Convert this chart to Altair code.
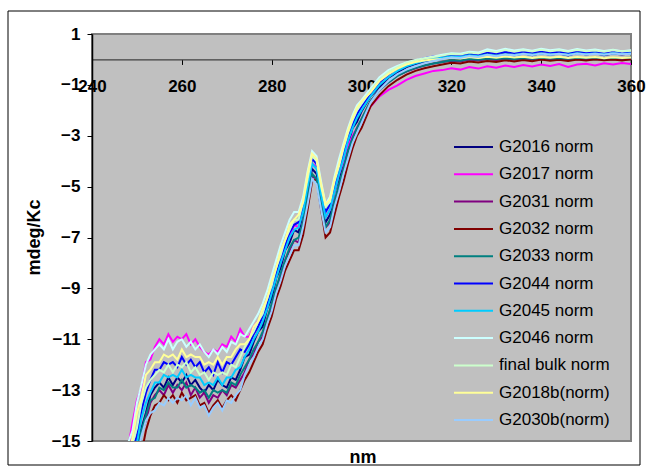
import altair as alt
import pandas as pd

# wavelength grid (nm)
nm = list(range(246, 301)) + list(range(302, 361, 2))

names = ["G2016 norm", "G2017 norm", "G2031 norm", "G2032 norm", "G2033 norm",
         "G2044 norm", "G2045 norm", "G2046 norm", "final bulk norm",
         "G2018b(norm)", "G2030b(norm)"]
colors = ["#000080", "#FF00FF", "#800080", "#800000", "#008080", "#0000FF",
          "#00CCFF", "#CCFFFF", "#CCFFCC", "#FFFF99", "#99CCFF"]

g2016 = [-18.5,-17.7,-16.9,-16.1,-15.3,-14.5,-13.9,
         -13.2,-12.9,-12.7,-12.9,-12.5,-12.8,-12.5,-12.7,-12.4,-12.8,-12.6,-12.9,-13.1,-12.8,-13.0,-12.6,-12.8,-12.9,-12.5,-12.6,-12.2,
         -11.7,-11.6,-11.1,-10.7,-10.5,-9.8,-9.4,-8.6,-8.2,-7.5,-7.2,-6.7,-6.8,-6.0,-5.2,-4.3,-4.5,-5.3,-6.4,-6.1,-5.2,-4.7,-4.0,-3.4,-2.7,-2.45,-2.05,
         -1.45,-1.1,-0.72,-0.52,-0.3,-0.18,-0.12,-0.02,
         0.07,0.12,0.08,0.19,0.13,0.22,0.15,0.23,0.16,0.24,0.17,0.25,0.18,0.23,0.16,0.26,0.19,0.24,0.17,0.23,0.19,0.24]
g2017 = [-16.8,-15.9,-15.3,-14.3,-13.4,-12.9,-11.9,
         -11.8,-11.3,-11.0,-11.2,-10.8,-11.1,-10.9,-11.0,-10.8,-11.2,-11.0,-11.3,-11.5,-11.6,-11.4,-11.5,-11.2,-11.3,-10.9,-11.1,-10.6,
         -10.9,-10.9,-10.5,-10.3,-10.0,-9.5,-9.0,-8.4,-8.0,-7.3,-7.0,-6.5,-6.6,-5.8,-5.0,-4.1,-4.2,-5.3,-6.2,-5.9,-5.2,-4.5,-4.0,-3.4,-3.0,-2.7,-2.45,
         -1.85,-1.45,-1.2,-1.02,-0.8,-0.65,-0.55,-0.45,
         -0.42,-0.35,-0.4,-0.3,-0.36,-0.27,-0.33,-0.24,-0.3,-0.22,-0.28,-0.2,-0.26,-0.18,-0.3,-0.2,-0.17,-0.24,-0.15,-0.2,-0.14,-0.18]
g2031 = [-18.8,-18.0,-17.1,-16.5,-15.6,-14.7,-14.2,
         -13.5,-13.2,-13.0,-13.2,-12.8,-13.1,-12.8,-13.0,-12.7,-13.2,-12.9,-13.3,-13.1,-13.5,-13.2,-13.3,-13.0,-13.2,-12.8,-12.9,-12.6,
         -12.3,-11.8,-11.6,-11.1,-10.9,-10.2,-9.8,-9.0,-8.6,-7.9,-7.5,-7.1,-7.2,-6.4,-5.6,-4.6,-4.7,-5.8,-6.6,-6.4,-5.6,-5.0,-4.3,-3.6,-3.1,-2.7,-2.35,
         -1.65,-1.2,-0.9,-0.63,-0.48,-0.35,-0.24,-0.16,
         -0.1,-0.05,-0.08,0.0,-0.04,0.03,-0.02,0.04,0.0,0.05,0.01,0.06,0.02,0.05,0.0,0.06,0.02,0.05,0.01,0.06,0.03,0.05]
g2032 = [-19.4,-18.6,-17.9,-17.0,-16.1,-15.5,-14.6,
         -14.0,-13.6,-13.5,-13.2,-13.4,-13.2,-13.5,-13.1,-13.4,-13.3,-13.2,-13.6,-13.5,-13.9,-13.6,-13.4,-13.7,-13.4,-13.2,-13.4,-13.0,
         -12.6,-12.3,-11.9,-11.5,-11.2,-10.6,-10.1,-9.4,-8.9,-8.3,-7.9,-7.5,-7.5,-6.9,-5.9,-4.8,-4.7,-5.9,-7.0,-6.8,-6.1,-5.4,-4.8,-4.1,-3.5,-3.0,-2.7,
         -1.85,-1.4,-1.05,-0.8,-0.6,-0.45,-0.35,-0.27,
         -0.2,-0.13,-0.16,-0.08,-0.12,-0.06,-0.1,-0.03,-0.08,-0.02,-0.07,0.0,-0.05,-0.01,-0.06,0.0,-0.04,0.01,-0.03,0.0,-0.04,0.01]
g2033 = [-18.7,-17.9,-17.0,-16.4,-15.5,-14.6,-14.0,
         -13.4,-13.3,-12.9,-13.0,-12.7,-12.9,-12.9,-12.6,-12.9,-12.8,-12.9,-13.1,-13.0,-13.3,-13.0,-13.1,-13.0,-13.1,-12.7,-12.8,-12.4,
         -12.1,-11.8,-11.4,-11.1,-10.7,-10.2,-9.6,-9.0,-8.4,-7.9,-7.4,-7.1,-7.0,-6.4,-5.4,-4.5,-4.7,-5.7,-6.6,-6.3,-5.6,-4.9,-4.3,-3.6,-3.1,-2.7,-2.35,
         -1.65,-1.2,-0.9,-0.65,-0.47,-0.33,-0.24,-0.16,
         -0.1,-0.03,-0.05,0.02,-0.01,0.04,0.02,0.05,0.02,0.06,0.03,0.07,0.04,0.06,0.03,0.07,0.05,0.08,0.04,0.07,0.05,0.08]
g2044 = [-17.9,-17.0,-16.4,-15.4,-14.8,-13.8,-13.1,
         -12.6,-12.2,-12.2,-11.9,-12.0,-11.9,-12.1,-11.7,-12.0,-11.8,-12.1,-11.9,-12.3,-12.1,-12.4,-11.9,-12.3,-11.9,-12.0,-11.7,-11.4,
         -11.5,-11.2,-10.8,-10.5,-10.1,-9.6,-9.0,-8.4,-7.8,-7.3,-6.8,-6.5,-6.4,-5.8,-4.8,-3.9,-4.1,-5.1,-6.0,-5.7,-5.0,-4.3,-3.7,-3.0,-2.55,-2.15,-1.85,
         -1.35,-0.9,-0.6,-0.35,-0.17,-0.05,0.05,0.12,
         0.15,0.2,0.17,0.24,0.2,0.28,0.23,0.3,0.25,0.31,0.26,0.33,0.27,0.3,0.25,0.32,0.27,0.31,0.26,0.33,0.28,0.3]
g2045 = [-18.2,-17.3,-16.7,-15.7,-15.1,-14.1,-13.5,
         -13.1,-12.7,-12.7,-12.4,-12.5,-12.4,-12.5,-12.2,-12.5,-12.4,-12.5,-12.5,-12.8,-12.7,-12.8,-12.5,-12.8,-12.5,-12.5,-12.2,-12.1,
         -11.7,-11.4,-11.0,-10.7,-10.3,-9.8,-9.2,-8.6,-8.0,-7.5,-7.0,-6.7,-6.6,-6.0,-5.0,-4.1,-4.3,-5.3,-6.2,-5.9,-5.2,-4.5,-3.9,-3.2,-2.7,-2.3,-2.0,
         -1.45,-1.0,-0.7,-0.45,-0.27,-0.15,-0.05,0.02,
         0.07,0.12,0.1,0.16,0.13,0.19,0.15,0.2,0.17,0.22,0.18,0.23,0.19,0.22,0.18,0.24,0.2,0.23,0.19,0.24,0.21,0.23]
g2046 = [-16.9,-16.0,-15.1,-14.6,-13.5,-12.8,-12.0,
         -11.6,-11.4,-11.2,-11.4,-11.0,-11.4,-11.1,-11.0,-11.3,-11.1,-11.4,-11.2,-11.5,-11.7,-11.4,-11.6,-11.3,-11.5,-11.1,-11.2,-10.8,
         -10.9,-10.6,-10.3,-10.0,-9.6,-9.1,-8.5,-7.9,-7.3,-6.8,-6.3,-6.0,-6.0,-5.4,-4.4,-3.6,-3.8,-4.8,-5.7,-5.4,-4.6,-3.9,-3.3,-2.7,-2.2,-1.8,-1.6,
         -1.15,-0.7,-0.42,-0.25,-0.12,-0.02,0.05,0.12,
         0.18,0.24,0.22,0.3,0.27,0.4,0.33,0.42,0.35,0.4,0.34,0.42,0.36,0.4,0.33,0.41,0.35,0.39,0.33,0.38,0.32,0.36]
bulk = [-17.6,-16.7,-16.1,-15.1,-14.5,-13.5,-12.9,
        -12.6,-12.4,-12.2,-12.3,-12.0,-12.3,-12.0,-12.1,-11.9,-12.3,-12.1,-12.4,-12.3,-12.6,-12.3,-12.4,-12.3,-12.4,-12.0,-12.1,-11.7,
        -11.3,-11.0,-10.7,-10.3,-10.0,-9.4,-8.9,-8.2,-7.7,-7.1,-6.7,-6.3,-6.3,-5.6,-4.7,-3.8,-4.0,-5.0,-5.8,-5.6,-4.8,-4.2,-3.5,-2.9,-2.4,-2.0,-1.75,
        -1.25,-0.8,-0.5,-0.3,-0.14,-0.04,0.04,0.1,
        0.15,0.22,0.19,0.27,0.23,0.34,0.28,0.37,0.3,0.36,0.31,0.38,0.32,0.36,0.3,0.37,0.32,0.35,0.3,0.36,0.31,0.34]
g2018b = [-17.2,-16.3,-15.5,-14.9,-13.9,-13.3,-12.4,
          -12.2,-11.9,-11.9,-11.6,-11.7,-11.6,-11.8,-11.4,-11.7,-11.6,-11.7,-11.7,-12.0,-11.9,-12.0,-11.7,-12.0,-11.7,-11.7,-11.4,-11.2,
          -11.2,-11.0,-10.5,-10.3,-9.8,-9.4,-8.7,-8.2,-7.5,-7.1,-6.5,-6.3,-6.1,-5.6,-4.5,-3.7,-3.9,-4.9,-5.7,-5.5,-4.7,-4.1,-3.4,-2.8,-2.3,-1.9,-1.65,
          -1.3,-0.85,-0.58,-0.36,-0.2,-0.1,-0.04,0.0,
          0.02,0.07,0.04,0.1,0.06,0.11,0.07,0.12,0.08,0.11,0.06,0.1,0.07,0.11,0.06,0.1,0.07,0.1,0.05,0.09,0.06,0.08]
g2030b = [-18.8,-17.9,-17.3,-16.3,-15.7,-14.8,-14.2,
          -13.9,-13.8,-13.5,-13.6,-13.3,-13.5,-13.3,-13.4,-13.2,-13.6,-13.3,-13.7,-13.6,-14.0,-13.7,-13.5,-13.8,-13.4,-13.5,-13.2,-13.0,
          -12.4,-12.0,-11.7,-11.3,-11.0,-10.4,-9.9,-9.2,-8.7,-8.1,-7.7,-7.3,-7.3,-6.6,-5.7,-4.7,-4.9,-5.9,-6.8,-6.6,-5.8,-5.2,-4.5,-3.9,-3.3,-2.9,-2.5,
          -1.7,-1.2,-0.85,-0.58,-0.4,-0.27,-0.15,-0.06,
          0.02,0.08,0.06,0.13,0.1,0.18,0.13,0.2,0.16,0.22,0.17,0.23,0.18,0.22,0.17,0.23,0.19,0.22,0.18,0.23,0.2,0.22]

series = [g2016, g2017, g2031, g2032, g2033, g2044, g2045, g2046, bulk, g2018b, g2030b]

y_ticks = [-15, -13, -11, -9, -7, -5, -3, -1, 1]
x_ticks = [240, 260, 280, 300, 320, 340, 360]

rows = []
for i, (name, vals) in enumerate(zip(names, series)):
    for x, v in zip(nm, vals):
        rows.append({"nm": x, "val": v, "series": name, "k": i})
df = pd.DataFrame(rows)

FONT = "Liberation Sans"
W, H = 539, 407

lines = alt.Chart(df).mark_line(strokeWidth=2, clip=True).encode(
    x=alt.X("nm:Q",
            scale=alt.Scale(domain=[240, 360], nice=False, zero=False),
            axis=alt.Axis(values=x_ticks, title=None, grid=False, orient="bottom",
                          offset=-(H - H / 16), labelFlush=False, labelOverlap=False,
                          labelFont=FONT, labelFontSize=17, labelFontWeight="bold",
                          labelColor="black", labelPadding=14, tickSize=5,
                          tickColor="black", domainColor="#404040", domainWidth=1.2)),
    y=alt.Y("val:Q",
            scale=alt.Scale(domain=[-15, 1], nice=False, zero=False),
            axis=alt.Axis(values=y_ticks, title=None, grid=False,
                          labelFont=FONT, labelFontSize=17, labelFontWeight="bold",
                          labelColor="black", labelPadding=7, tickSize=5,
                          tickColor="black", domainColor="black", domainWidth=1.5,
                          labelOverlap=False)),
    color=alt.Color("series:N", sort=names,
                    scale=alt.Scale(domain=names, range=colors),
                    legend=alt.Legend(orient="none", legendX=361, legendY=99.5,
                                      direction="vertical", title=None,
                                      symbolType="stroke", symbolSize=1521,
                                      symbolStrokeWidth=2, labelFont=FONT,
                                      labelFontSize=17, labelColor="black",
                                      clipHeight=27, rowPadding=0.3, padding=0,
                                      labelOffset=5, labelLimit=0)),
    detail="k:O",
)

frame = alt.Chart(pd.DataFrame({"a": [0]})).mark_rect(
    fill=None, stroke="black", strokeWidth=1).encode(
    x=alt.value(-84), x2=alt.value(548), y=alt.value(-23), y2=alt.value(431))

ytitle = alt.Chart(pd.DataFrame({"t": ["mdeg/Kc"]})).mark_text(
    angle=270, font=FONT, fontSize=18, fontWeight="bold", color="black",
    baseline="middle", align="center").encode(
    text="t:N", x=alt.value(-57), y=alt.value(H / 2))

xtitle = alt.Chart(pd.DataFrame({"t": ["nm"]})).mark_text(
    font=FONT, fontSize=18, fontWeight="bold", color="black",
    baseline="middle", align="center").encode(
    text="t:N", x=alt.value(271), y=alt.value(424))

chart = alt.layer(lines, frame, ytitle, xtitle).properties(
    width=W, height=H,
    padding={"left": 92, "top": 34, "right": 15, "bottom": 29},
    autosize=alt.AutoSizeParams(type="none"),
    background="white",
).configure_view(
    fill="#C0C0C0", stroke="#808080", strokeWidth=2
)

chart.save("out.html", embed_options={"renderer": "svg", "actions": False})
